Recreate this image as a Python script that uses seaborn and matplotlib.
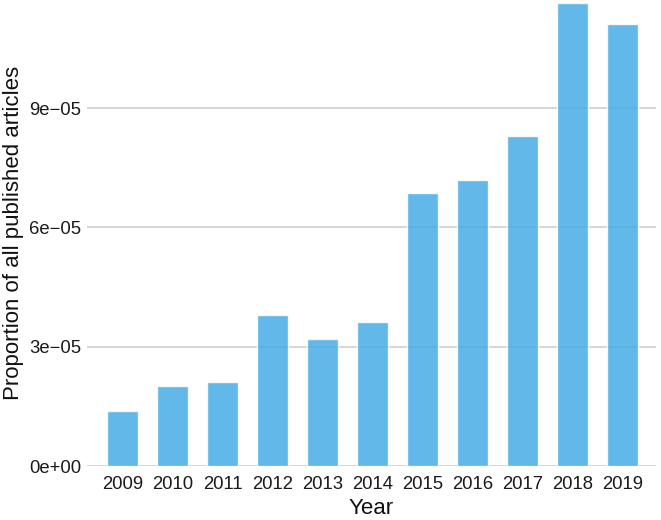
import matplotlib
matplotlib.use("Agg")
import matplotlib.pyplot as plt
import seaborn as sns
import pandas as pd

years = ["2009", "2010", "2011", "2012", "2013", "2014", "2015", "2016", "2017", "2018", "2019"]
proportions = [1.38e-5, 2.01e-5, 2.11e-5, 3.80e-5, 3.19e-5, 3.62e-5, 6.87e-5, 7.19e-5, 8.30e-5, 1.164e-4, 1.111e-4]
y_ticks = [0, 3e-5, 6e-5, 9e-5]
y_tick_labels = ["0e+00", "3e\u221205", "6e\u221205", "9e\u221205"]

df = pd.DataFrame({"Year": years, "Proportion": proportions})

sns.set_theme(style="white")
plt.rcParams["font.family"] = ["Liberation Sans", "DejaVu Sans"]

fig = plt.figure(figsize=(6.61, 5.2), dpi=100)
ax = fig.add_axes([0.1316, 0.1038, 0.8608, 0.8962])

for t in y_ticks:
    ax.axhline(t, color="#D6D6D6", lw=1.4, zorder=1)

sns.barplot(data=df, x="Year", y="Proportion", color="#46ACE4", saturation=1,
            width=0.62, alpha=0.85, ax=ax, zorder=2)

ax.set_xlim(-0.72, 10.66)
ax.set_ylim(0, 1.172e-4)
ax.set_yticks(y_ticks)
ax.set_yticklabels(y_tick_labels)
for s in ax.spines.values():
    s.set_visible(False)
ax.tick_params(axis="x", length=4, width=1.2, color="#D6D6D6", labelsize=13.3, labelcolor="#1a1a1a", pad=3.5)
ax.tick_params(axis="y", length=0, labelsize=13.3, labelcolor="#1a1a1a", pad=4)
ax.set_xlabel("Year", fontsize=16, color="#111111", labelpad=3)
ax.set_ylabel("Proportion of all published articles", fontsize=16, color="#111111", labelpad=4)

fig.savefig("out.png", dpi=100)
